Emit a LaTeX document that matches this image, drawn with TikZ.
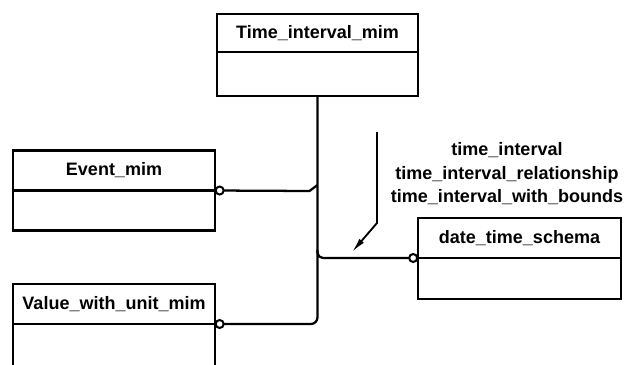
\documentclass[tikz,border=0pt]{standalone}
\usepackage{fontspec}
\setmainfont{Liberation Sans}
\usepackage{tikz}
\usetikzlibrary{arrows.meta, positioning}

\begin{document}
\begin{tikzpicture}[
  x=0.75pt, y=-0.75pt,
  font=\fontsize{13.5}{17.6}\selectfont\bfseries,
  ent/.style={draw=black, line width=1.7pt, minimum width=151pt, minimum height=30pt, inner sep=0pt, outer sep=0pt, align=center},
  entbody/.style={ent, minimum height=31pt},
  conn/.style={line width=1.7pt, -{Circle[open, length=7.5pt, line width=1.5pt]}},
  arr/.style={line width=1.4pt, -{Latex[length=11pt, width=4.5pt]}},
]
\clip (0,0) rectangle (627,364);

% Entities
\node[ent, minimum height=28.5pt] (timeh) at (317.5,33) {Time\_interval\_mim};
\node[entbody, minimum height=33pt, below=0pt of timeh] (timeb) {};
\node[ent] (eventh) at (114,170.5) {Event\_mim};
\node[entbody, minimum height=30pt, below=0pt of eventh] (eventb) {};
\node[ent] (valueh) at (114,304) {Value\_with\_unit\_mim};
\node[entbody, minimum height=40pt, below=0pt of valueh] (valueb) {};
\node[ent, minimum width=152pt] (dtsh) at (519.5,238) {date\_time\_schema};
\node[entbody, minimum width=152pt, below=0pt of dtsh] (dtsb) {};

% Connectors
\coordinate (ey) at (0,185);
\coordinate (dy) at (0,250);
\coordinate (ej) at (timeb.south |- ey);
\coordinate (dj) at (timeb.south |- dy);
\draw[conn, rounded corners=5] (timeb.south) |- (valueh.south east);
\draw[conn] (ej) -- ++(-8,6) -- (eventh.south east);
\draw[conn, rounded corners=4] (dj) |- (dtsh.south west);

% Reference arrow and its labels
\coordinate (arrtop) at (377,132);
\coordinate (arrend) at (352,252);
\draw[arr] (arrtop) -- ++(0,91) -- (arrend);
\node[align=center] (roles) at (507,174) {time\_interval\\time\_interval\_relationship\\time\_interval\_with\_bounds};

\end{tikzpicture}
\end{document}
